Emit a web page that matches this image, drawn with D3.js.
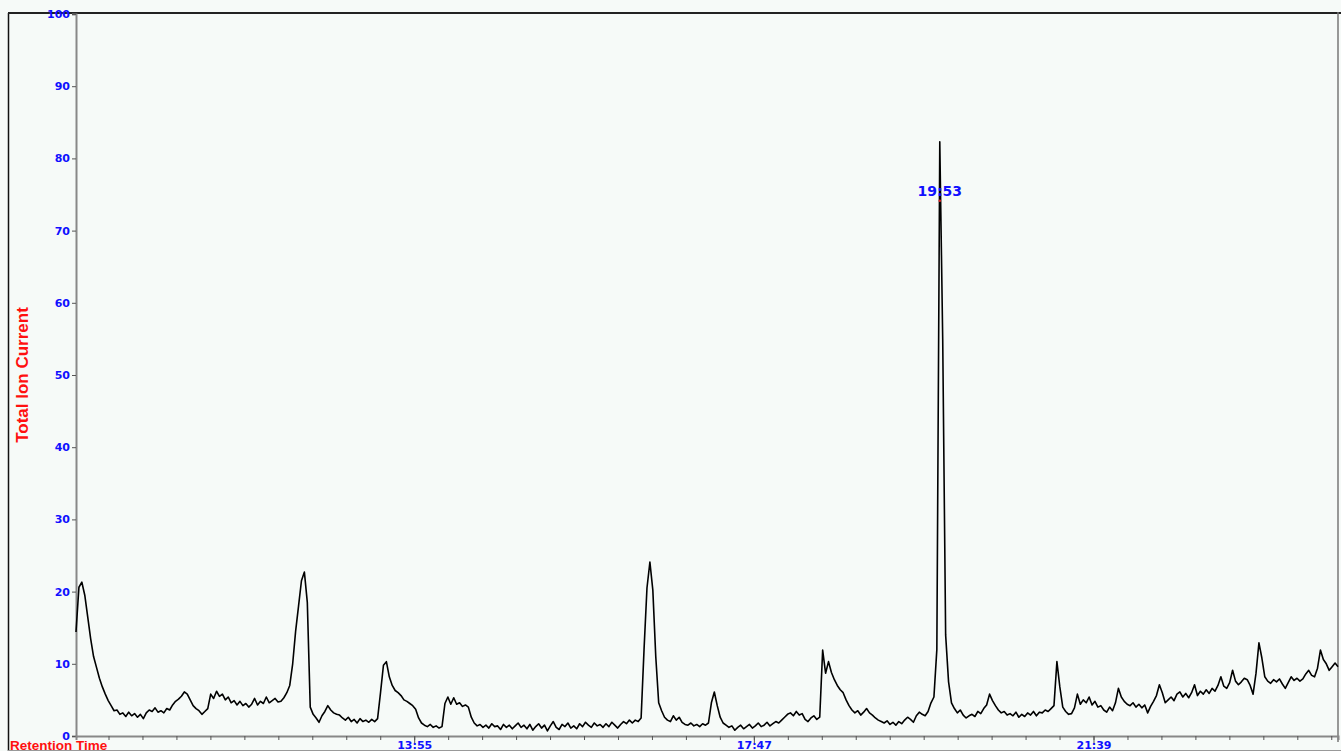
<!DOCTYPE html>
<html>
<head>
<meta charset="utf-8">
<script src="https://cdn.jsdelivr.net/npm/d3@7/dist/d3.min.js"></script>
<style>
    html, body { margin: 0; padding: 0; background: #f6faf8; overflow: hidden; }
    svg { display: block; }
</style>
</head>
<body>
<script>
'use strict';

// retention time window (seconds) and scan interval
var timeStart = 604;
var timeEnd = 1466;
var scanStep = 2;

// total ion current, one value per scan
var ticValues = [
    14.4, 20.6, 21.3, 19.5, 16.5, 13.5, 11, 9.5, 8, 6.8,
    5.8, 4.9, 4.2, 3.5, 3.6, 3.0, 3.2, 2.7, 3.3, 2.8,
    3.1, 2.6, 3.0, 2.4, 3.2, 3.6, 3.4, 3.9, 3.3, 3.5,
    3.2, 3.8, 3.6, 4.3, 4.8, 5.1, 5.5, 6.1, 5.8, 5.0,
    4.2, 3.8, 3.5, 3.0, 3.4, 3.8, 5.8, 5.2, 6.2, 5.5,
    5.8, 5.0, 5.4, 4.6, 4.9, 4.3, 4.8, 4.2, 4.5, 4.0,
    4.4, 5.2, 4.3, 4.8, 4.5, 5.4, 4.6, 4.9, 5.2, 4.7,
    4.8, 5.3, 6.0, 7.0, 10.0, 14.5, 18.0, 21.5, 22.7, 18.5,
    4.0, 3.0, 2.5, 1.9, 2.8, 3.4, 4.2, 3.6, 3.2, 3.0,
    2.9, 2.5, 2.2, 2.6, 2.0, 2.3, 1.8, 2.4, 2.0, 2.2,
    1.9, 2.3, 2.0, 2.4, 6.0, 9.8, 10.3, 8.2, 7.0, 6.3,
    6.0, 5.6, 5.0, 4.8, 4.5, 4.2, 3.7, 2.5, 1.8, 1.5,
    1.3, 1.6, 1.2, 1.4, 1.1, 1.3, 4.5, 5.4, 4.4, 5.3,
    4.4, 4.6, 4.1, 4.3, 4.0, 2.6, 1.8, 1.4, 1.6, 1.2,
    1.5, 1.1, 1.7, 1.3, 1.4, 0.9, 1.6, 1.2, 1.5, 1.0,
    1.4, 1.8, 1.2, 1.5, 1.0, 1.6, 0.8, 1.3, 1.7, 1.1,
    1.5, 0.7, 1.4, 2.0, 1.2, 0.9, 1.6, 1.3, 1.8, 1.1,
    1.4, 1.0, 1.7, 1.3, 1.9, 1.5, 1.2, 1.8, 1.4, 1.6,
    1.2, 1.7, 1.3, 1.9, 1.5, 1.1, 1.6, 2.0, 1.7, 2.2,
    1.8, 2.2, 2.0, 2.5, 12.0, 20.5, 24.1, 20.2, 11.0, 4.6,
    3.5, 2.6, 2.2, 2.0, 2.8, 2.2, 2.6, 1.9, 1.6, 1.5,
    1.8, 1.4, 1.6, 1.3, 1.7, 1.5, 1.8, 4.6, 6.1, 4.2,
    2.6, 1.8, 1.5, 1.2, 1.4, 0.8, 1.2, 1.5, 1.0, 1.3,
    1.6, 1.1, 1.4, 1.8, 1.3, 1.5, 1.9, 1.4, 1.7, 2.0,
    1.8, 2.2, 2.6, 3.0, 3.2, 2.8, 3.4, 2.9, 3.1, 2.3,
    2.0, 2.5, 2.8, 2.3, 2.6, 11.9, 8.7, 10.3, 8.8, 7.8,
    7.0, 6.4, 6.0, 5.0, 4.2, 3.6, 3.2, 3.5, 2.9, 3.3,
    3.8, 3.2, 2.9, 2.5, 2.2, 2.0, 1.8, 2.1, 1.6, 1.9,
    1.5, 2.0, 1.7, 2.2, 2.6, 2.3, 1.9, 2.8, 3.3, 3.0,
    2.8, 3.4, 4.6, 5.4, 12.0, 82.3, 55.0, 14.0, 7.5, 4.6,
    3.8, 3.2, 3.6, 2.9, 2.5, 2.8, 3.0, 2.7, 3.4, 3.1,
    3.8, 4.3, 5.8, 4.9, 4.2, 3.6, 3.2, 3.4, 2.9, 3.1,
    2.8, 3.3, 2.6, 3.0, 2.7, 3.2, 2.9, 3.4, 2.8, 3.3,
    3.2, 3.6, 3.4, 3.8, 4.2, 10.3, 6.8, 4.0, 3.4, 3.0,
    3.1, 3.9, 5.8, 4.4, 5.0, 4.6, 5.4, 4.3, 4.8, 4.0,
    4.2, 3.6, 3.3, 4.0, 3.5, 4.6, 6.6, 5.4, 4.8, 4.4,
    4.2, 4.6, 4.0, 4.4, 3.9, 4.3, 3.2, 4.1, 4.8, 5.6,
    7.1, 6.0, 4.6, 5.0, 5.4, 4.9, 5.8, 6.1, 5.4, 5.9,
    5.3, 6.0, 7.1, 5.6, 6.2, 5.8, 6.4, 5.9, 6.6, 6.2,
    7.0, 8.2, 6.9, 6.6, 7.4, 9.1, 7.6, 7.1, 7.5, 8.0,
    7.8, 7.0, 5.8, 8.7, 12.9, 10.8, 8.2, 7.6, 7.3, 7.8,
    7.5, 7.9, 7.2, 6.6, 7.4, 8.2, 7.7, 8.0, 7.6, 7.9,
    8.6, 9.1, 8.4, 8.2, 9.4, 11.9, 10.6, 10.0, 9.1, 9.6,
    10.1, 9.6
];

// axis ticks
var yTicks = [0, 10, 20, 30, 40, 50, 60, 70, 80, 90, 100];
var xLabelTimes = [835, 1067, 1299];
var xLabels = ['13:55', '17:47', '21:39'];
var minorStep = 23.2;

// labelled peak
var peakTime = 1194;
var peakLabel = '19:53';

var width = 1341;
var height = 751;
var plot = {left: 76, right: 1338, top: 14, bottom: 736};

var x = d3.scaleLinear().domain([timeStart, timeEnd]).range([plot.left, plot.right]);
var y = d3.scaleLinear().domain([0, 100]).range([plot.bottom, plot.top]);

var data = ticValues.map(function (v, i) {
    return {t: timeStart + i * scanStep, v: v};
});

var minorTicks = [];
for (var k = -9; xLabelTimes[0] + k * minorStep <= timeEnd + 0.5; k++) {
    minorTicks.push(xLabelTimes[0] + k * minorStep);
}

var svg = d3.select('body')
    .append('svg')
    .attr('width', width)
    .attr('height', height);

svg.append('rect')
    .attr('width', width)
    .attr('height', height)
    .attr('fill', '#f6faf8');

// frame
svg.append('line')
    .attr('x1', 8.5).attr('x2', 8.5)
    .attr('y1', 13).attr('y2', height)
    .attr('stroke', '#111').attr('stroke-width', 1.5);
svg.append('line')
    .attr('x1', 8).attr('x2', plot.right + 3)
    .attr('y1', 13).attr('y2', 13)
    .attr('stroke', '#222').attr('stroke-width', 2);
svg.append('line')
    .attr('x1', plot.right).attr('x2', plot.right)
    .attr('y1', 12).attr('y2', plot.bottom + 6)
    .attr('stroke', '#777').attr('stroke-width', 1.5);
svg.append('line')
    .attr('x1', 8).attr('x2', width)
    .attr('y1', height - 0.5).attr('y2', height - 0.5)
    .attr('stroke', '#999').attr('stroke-width', 1);

// y axis
var yAxis = svg.append('g')
    .attr('transform', 'translate(' + plot.left + ',0)')
    .call(d3.axisLeft(y).tickValues(yTicks).tickSize(4).tickPadding(2));
yAxis.select('.domain').attr('stroke', '#888').attr('stroke-width', 2);
yAxis.selectAll('.tick line').attr('stroke', '#555');
yAxis.selectAll('.tick text')
    .attr('fill', '#1010ff')
    .attr('font-family', 'DejaVu Sans')
    .attr('font-weight', 'bold')
    .attr('font-size', '11px');

// x axis: minor ticks
var xAxis = svg.append('g')
    .attr('transform', 'translate(0,' + plot.bottom + ')')
    .call(d3.axisBottom(x).tickValues(minorTicks).tickSize(4).tickFormat(''));
xAxis.select('.domain').attr('stroke', '#888').attr('stroke-width', 2);
xAxis.selectAll('.tick line').attr('stroke', '#555');

// x axis: labelled ticks
var xMajor = svg.append('g')
    .attr('transform', 'translate(0,' + plot.bottom + ')')
    .call(d3.axisBottom(x).tickValues(xLabelTimes).tickSize(8).tickPadding(0)
        .tickFormat(function (d, i) { return xLabels[i]; }));
xMajor.select('.domain').remove();
xMajor.selectAll('.tick line').attr('stroke', '#555');
xMajor.selectAll('.tick text')
    .attr('fill', '#1010ff')
    .attr('font-family', 'DejaVu Sans')
    .attr('font-weight', 'bold')
    .attr('font-size', '11px')
    .attr('y', 5)
    .attr('dy', '0.7em');

// axis titles
svg.append('text')
    .attr('x', 10)
    .attr('y', 750)
    .attr('fill', '#ff1010')
    .attr('font-family', 'Liberation Sans')
    .attr('font-weight', 'bold')
    .attr('font-size', '13.5px')
    .text('Retention Time');

svg.append('text')
    .attr('transform', 'translate(28,375) rotate(-90)')
    .attr('text-anchor', 'middle')
    .attr('fill', '#ff1010')
    .attr('font-family', 'Liberation Sans')
    .attr('font-weight', 'bold')
    .attr('font-size', '17px')
    .text('Total Ion Current');

// trace
var line = d3.line()
    .x(function (d) { return x(d.t); })
    .y(function (d) { return y(d.v); });

svg.append('path')
    .datum(data)
    .attr('d', line)
    .attr('fill', 'none')
    .attr('stroke', '#000')
    .attr('stroke-width', 1.6)
    .attr('stroke-linejoin', 'round');

// peak annotation
var peakValue = d3.max(ticValues);
svg.append('text')
    .attr('x', x(peakTime))
    .attr('y', y(peakValue) + 54)
    .attr('text-anchor', 'middle')
    .attr('fill', '#1010ff')
    .attr('font-family', 'DejaVu Sans')
    .attr('font-weight', 'bold')
    .attr('font-size', '14px')
    .text(peakLabel);

svg.append('circle')
    .attr('cx', x(peakTime))
    .attr('cy', y(peakValue) + 59)
    .attr('r', 1.3)
    .attr('fill', '#e02020');
</script>
</body>
</html>
